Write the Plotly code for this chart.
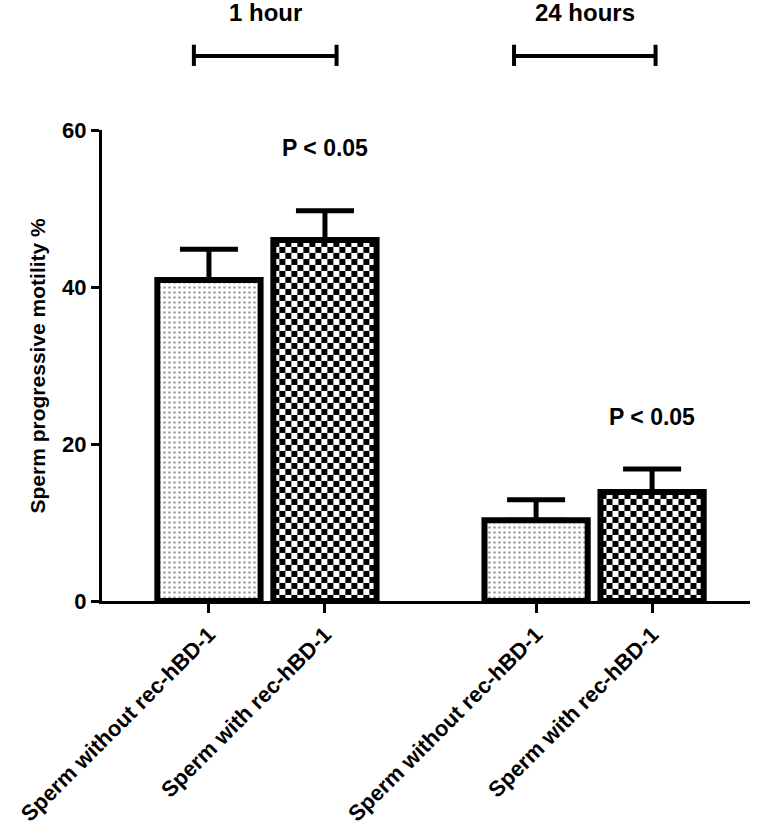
import numpy as np
import plotly.graph_objects as go

# ---------------- data ----------------
groups = ["1 hour", "24 hours"]
categories = ["Sperm without rec-hBD-1", "Sperm with rec-hBD-1"]
without_vals = [40.9, 10.3]
without_err = [3.9, 2.6]
with_vals = [46.0, 13.9]
with_err = [3.7, 2.9]
p_labels = ["P < 0.05", "P < 0.05"]
p_label_y = [57.7, 23.5]
y_ticks = [0, 20, 40, 60]
y_title = "Sperm progressive motility %"

# ---------------- layout constants ----------------
W, H = 761, 831
M = dict(l=102, r=11, t=130, b=230)
group_step = 2.82
bar_w = 0.89
x_range = [-0.922, 4.664]
y_range = [0, 60]
bracket_spans = [(-0.13, 1.10), (2.63, 3.85)]
FONT = "Liberation Sans, Arial, sans-serif"

pos_without = [g * group_step for g in range(len(groups))]
pos_with = [g * group_step + 1 for g in range(len(groups))]

plot_w = W - M["l"] - M["r"]
plot_h = H - M["t"] - M["b"]
px_x = plot_w / (x_range[1] - x_range[0])
px_y = plot_h / (y_range[1] - y_range[0])
cell = 6.0
dx = cell / px_x
dy = cell / px_y

fig = go.Figure()

# checkerboard fill for "with" bars (heatmap under the bars)
for xc, v in zip(pos_with, with_vals):
    xe = np.arange(xc - bar_w / 2, xc + bar_w / 2, dx)
    xe = np.append(xe, xc + bar_w / 2)
    ye = np.arange(0, v, dy)
    ye = np.append(ye, v)
    nx, ny = len(xe) - 1, len(ye) - 1
    z = np.add.outer(np.arange(ny), np.arange(nx)) % 2
    fig.add_trace(go.Heatmap(
        x=xe, y=ye, z=z, colorscale=[[0, "white"], [1, "black"]],
        zmin=0, zmax=1, showscale=False, hoverinfo="skip"))

err_style = dict(type="data", symmetric=False, color="black", thickness=5, width=29)

fig.add_trace(go.Bar(
    x=pos_without, y=without_vals, width=bar_w, name=categories[0],
    marker=dict(color="white", line=dict(color="black", width=6),
                pattern=dict(shape=".", fgcolor="#444444", bgcolor="white",
                             size=5, solidity=0.22)),
    error_y=dict(array=without_err, arrayminus=[0] * len(without_err), **err_style),
    hoverinfo="skip"))

fig.add_trace(go.Bar(
    x=pos_with, y=with_vals, width=bar_w, name=categories[1],
    marker=dict(color="rgba(0,0,0,0)", line=dict(color="black", width=6)),
    error_y=dict(array=with_err, arrayminus=[0] * len(with_err), **err_style),
    hoverinfo="skip"))

tickvals, ticktext = [], []
for a, b in zip(pos_without, pos_with):
    tickvals += [a, b]
    ticktext += categories

annotations = []
for xp, txt, yv in zip(pos_with, p_labels, p_label_y):
    annotations.append(dict(x=xp, y=yv, xref="x", yref="y", text=txt, showarrow=False,
                            font=dict(family=FONT, size=23, color="black", weight="bold"),
                            xanchor="center", yanchor="middle"))

shapes = []
y_line, y_cap_top, y_cap_bot, y_lab = 1.157, 1.181, 1.136, 1.25
for (x0, x1), g in zip(bracket_spans, groups):
    shapes.append(dict(type="line", xref="x", yref="paper", x0=x0, x1=x1, y0=y_line, y1=y_line,
                       line=dict(color="black", width=4)))
    for xx in (x0, x1):
        shapes.append(dict(type="line", xref="x", yref="paper", x0=xx, x1=xx, y0=y_cap_bot, y1=y_cap_top,
                           line=dict(color="black", width=4)))
    annotations.append(dict(x=(x0 + x1) / 2, y=y_lab, xref="x", yref="paper", text=g, showarrow=False,
                            font=dict(family=FONT, size=24, color="black", weight="bold"),
                            xanchor="center", yanchor="middle"))

annotations.append(dict(x=0, y=0.5, xref="paper", yref="paper", text=y_title, showarrow=False,
                        textangle=-90, xshift=-65, xanchor="center", yanchor="middle",
                        font=dict(family=FONT, size=21, color="black", weight="bold")))

fig.update_layout(
    width=W, height=H, margin=dict(**M, pad=0, autoexpand=False),
    paper_bgcolor="white", plot_bgcolor="white", showlegend=False,
    barmode="overlay",
    xaxis=dict(range=x_range, tickmode="array", tickvals=tickvals, ticktext=ticktext,
               tickangle=-45, tickfont=dict(family=FONT, size=22, color="black", weight="bold"),
               showline=True, linewidth=3, linecolor="black", ticks="outside", ticklen=9,
               tickwidth=3, tickcolor="black", showgrid=False, zeroline=False, automargin=False),
    yaxis=dict(range=y_range, tickmode="array", tickvals=y_ticks,
               tickfont=dict(family=FONT, size=22, color="black", weight="bold"),
               showline=True, linewidth=3, linecolor="black", ticks="outside", ticklen=8,
               tickwidth=3, tickcolor="black", showgrid=False, zeroline=False, automargin=False),
    annotations=annotations, shapes=shapes,
)

fig.write_html("out.html", config={"displayModeBar": False},
               post_script="document.body.style.margin='0';document.body.style.overflow='hidden';")
